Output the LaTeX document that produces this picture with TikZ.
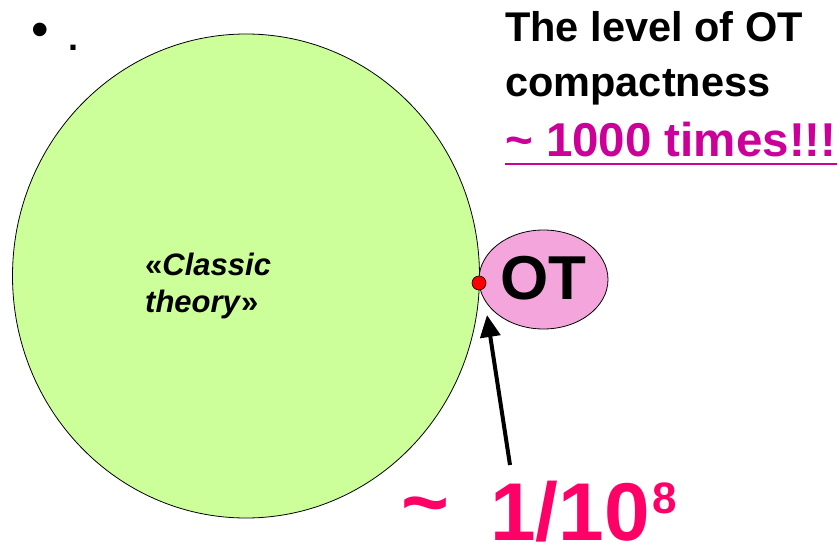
\documentclass[tikz,border=0pt]{standalone}
\usepackage{fontspec}
\setmainfont{Liberation Sans}
\usepackage{xcolor}
\definecolor{ctGreen} {RGB}{204, 255, 153}
\definecolor{ctPink}  {RGB}{244, 166, 220}
\definecolor{ctPurple}{RGB}{204,   0, 153}
\definecolor{ctRose}  {RGB}{255,   0, 102}
\definecolor{ctRed}   {RGB}{255,   0,   0}
\usepackage{tikz}
\usetikzlibrary{
  arrows.meta,
  positioning,
  shapes.geometric,
}

\begin{document}
\begin{tikzpicture}[
  x=1pt, y=1pt,
  blob/.style={ellipse, draw=black, line width=0.8pt, inner sep=0pt},
  headline/.style={anchor=base west, inner sep=0pt, font=\fontsize{41.5}{48}\selectfont\bfseries},
  inner/.style={anchor=base west, inner sep=0pt, font=\fontsize{31}{36}\selectfont\bfseries},
  big/.style={anchor=base west, inner sep=0pt, text depth=0pt, text=ctRose, font=\fontsize{82}{84}\selectfont\bfseries},
]
  \useasboundingbox (0,0) rectangle (839,-543);

  % Bullet line
  \node[anchor=center, inner sep=0pt, font=\fontsize{50}{50}\selectfont] (bul) at (40,-35) {\textbullet};
  \node[anchor=base, inner sep=0pt, font=\fontsize{36}{36}\selectfont\bfseries] (dot) at (74,-51) {.};

  % Classic theory vs OT
  \node[blob, fill=ctGreen, minimum width=467, minimum height=484] (classic) at (246,-276) {};
  \node[blob, fill=ctPink, minimum width=129, minimum height=99,
        font=\fontsize{62}{62}\selectfont\bfseries] (ot) at (543.5,-279.5) {\raisebox{3pt}{OT}};
  \node[circle, draw=black, line width=0.6pt, fill=ctRed, minimum size=14, inner sep=0pt] (touch) at (479,-283) {};

  \node[inner] (clsA) at (145,-275) {«\textit{Classic}};
  \node[inner] (clsB) at (145,-312) {\textit{theory}»};

  % Title, upper right
  \node[headline] (lvl) at (505,-42) {The level of OT};
  \node[headline] (cmp) at (505,-97) {compactness};
  \node[headline, text=ctPurple, font=\fontsize{47.5}{48}\selectfont\bfseries] (times) at (505,-157)
    {\textasciitilde\ 1000 times!!!};
  \draw[ctPurple, line width=2.5pt] ([yshift=-7]times.base west) -- ([yshift=-7]times.base east);

  % Ratio and pointer
  \node[big] (tilde) at (401,-530) {\textasciitilde};
  \node[big] (ratio) at (490,-540) {1/10\hspace{3pt}\raisebox{27pt}{\fontsize{44}{44}\selectfont 8}};
  \coordinate (tail) at (510,-465);
  \coordinate (tip)  at (487,-315);
  \draw[line width=4pt, -{Triangle[length=22pt, width=20pt]}] (tail) -- (tip);
\end{tikzpicture}
\end{document}
